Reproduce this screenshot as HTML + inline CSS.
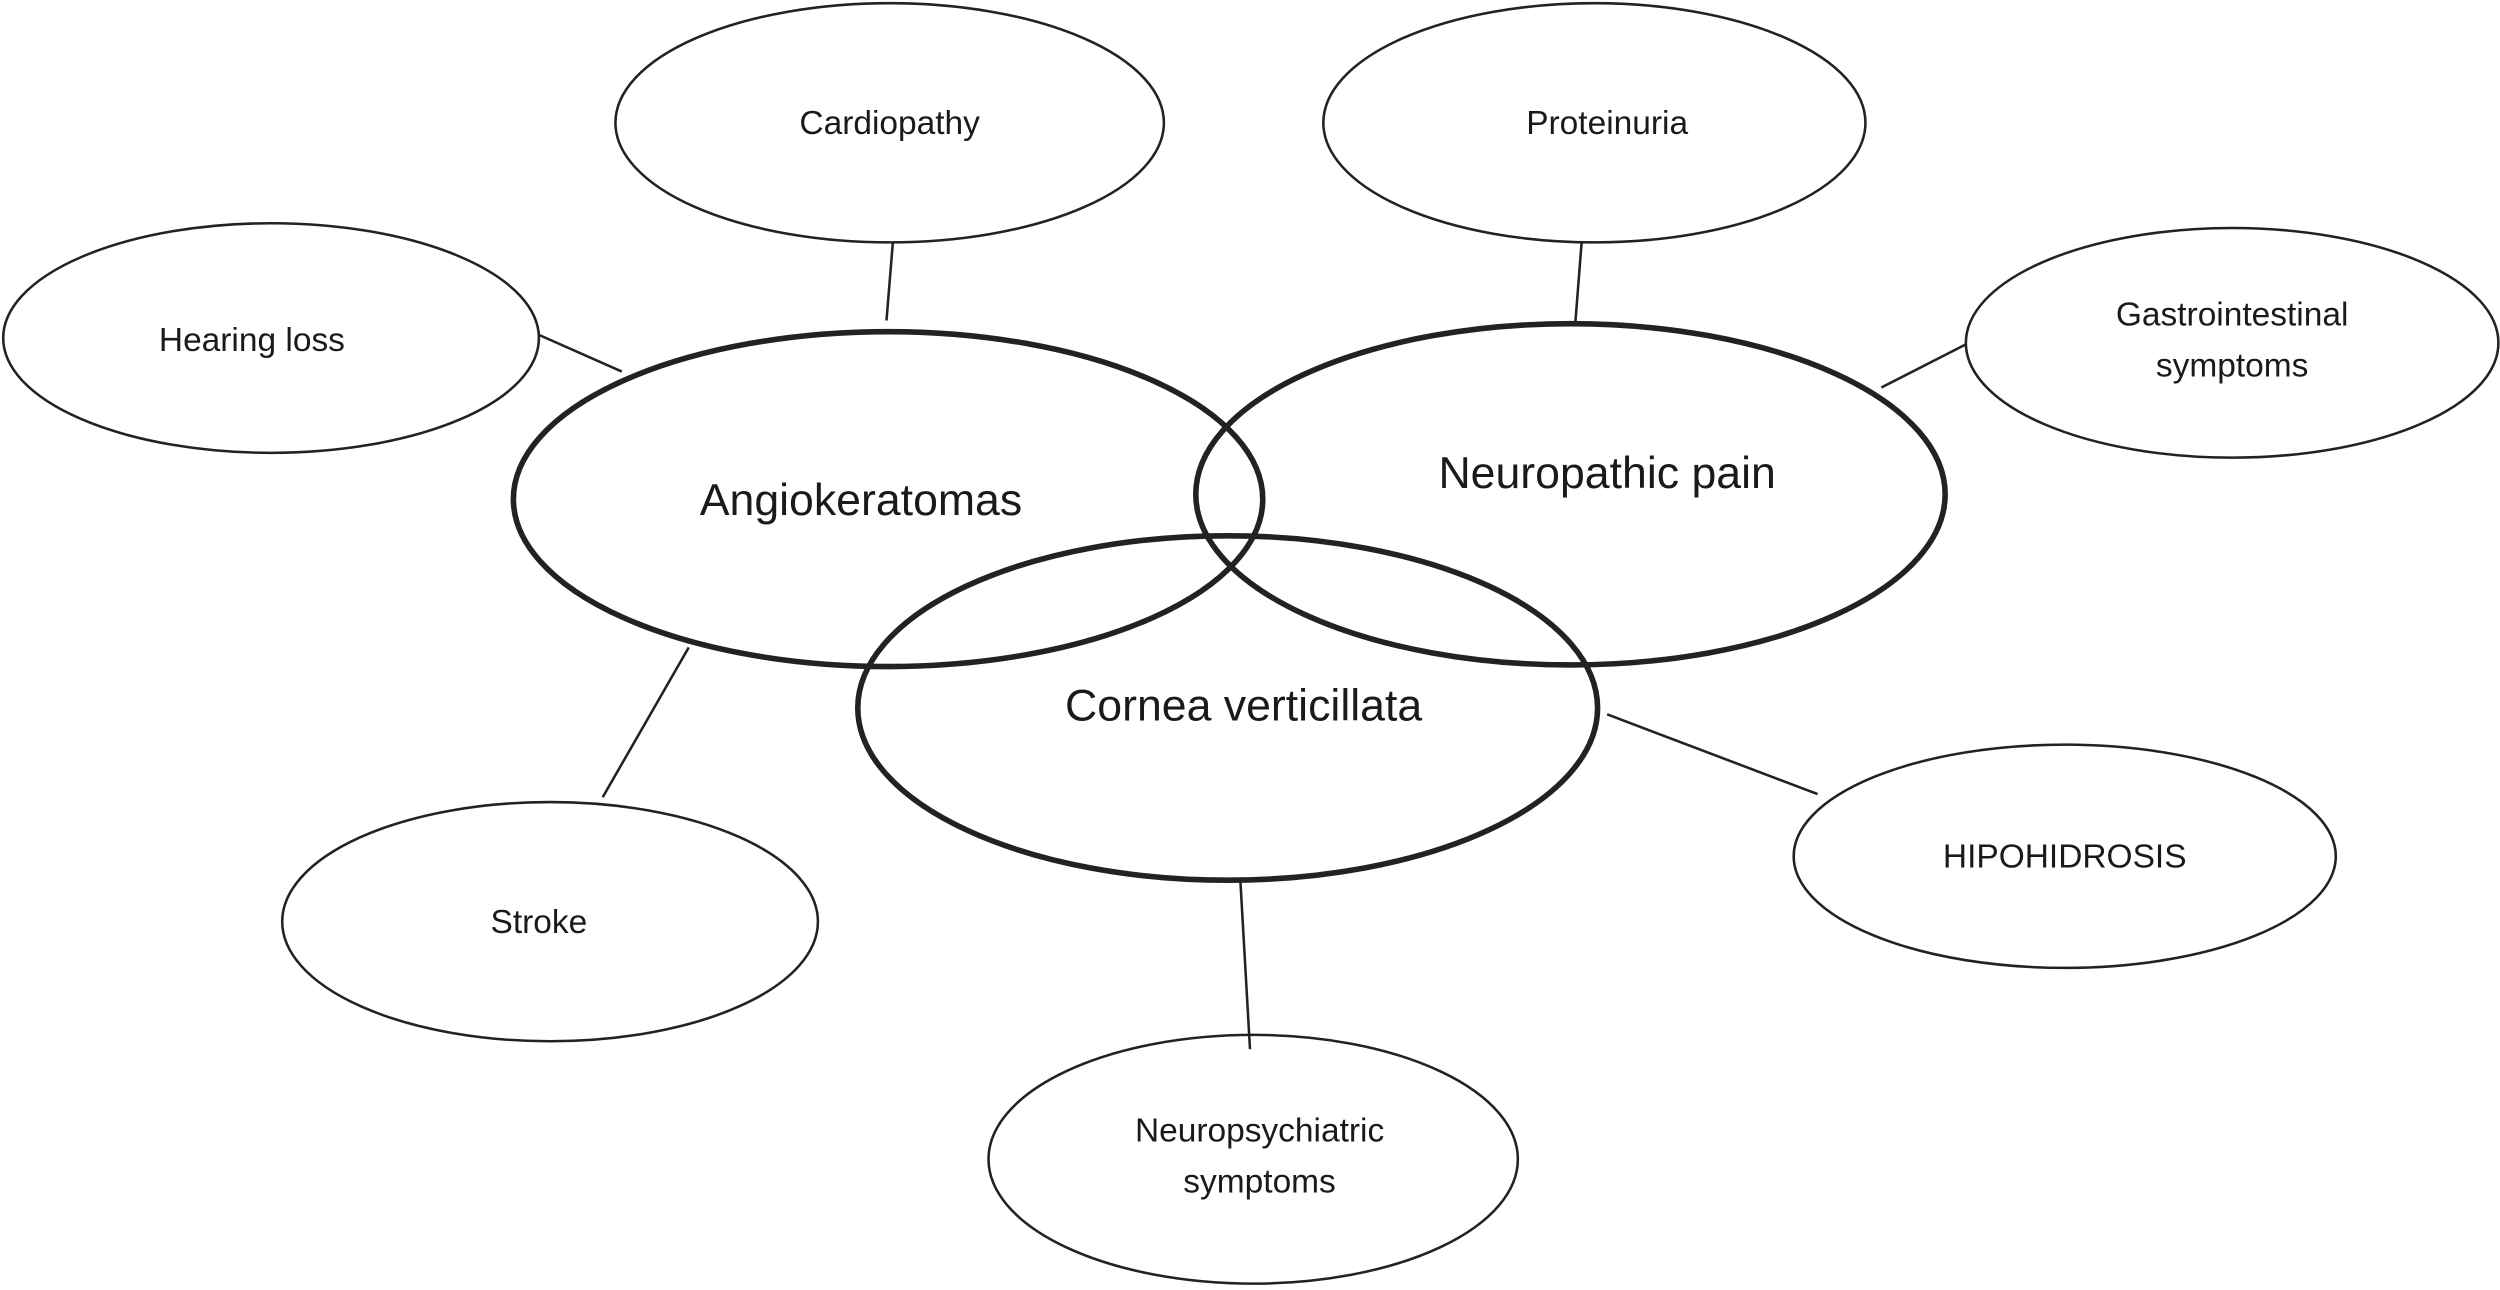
<!DOCTYPE html>
<html><head><meta charset="utf-8"><style>
html,body{margin:0;padding:0;background:#fff;}
svg{display:block;}
text{font-family:"Liberation Sans",Arial,sans-serif;fill:#1a1a1a;text-anchor:middle;}
</style></head><body>
<svg width="2500" height="1290" viewBox="0 0 1568 809" preserveAspectRatio="none" xmlns="http://www.w3.org/2000/svg">
<g stroke="#222" stroke-width="1.6" fill="none">
<line x1="560" y1="152" x2="556" y2="201"/>
<line x1="338" y1="210" x2="390" y2="233"/>
<line x1="992" y1="152" x2="988" y2="203"/>
<line x1="1233" y1="216" x2="1180" y2="243"/>
<line x1="432" y1="406" x2="378" y2="500"/>
<line x1="1008" y1="448" x2="1140" y2="498"/>
<line x1="778" y1="553" x2="784" y2="658"/>
<ellipse cx="558" cy="77" rx="172" ry="75"/>
<ellipse cx="1000" cy="77" rx="170" ry="75"/>
<ellipse cx="170" cy="212" rx="168" ry="72"/>
<ellipse cx="1400" cy="215" rx="167" ry="72"/>
<ellipse cx="345" cy="578" rx="168" ry="75"/>
<ellipse cx="1295" cy="537" rx="170" ry="70"/>
<ellipse cx="786" cy="727" rx="166" ry="78"/>
</g>
<g stroke="#222" stroke-width="3.5" fill="none">
<ellipse cx="557" cy="313" rx="235" ry="105"/>
<ellipse cx="985" cy="310" rx="235" ry="107"/>
<ellipse cx="770" cy="444" rx="232" ry="108"/>
</g>
<g font-size="21">
<text x="558" y="84">Cardiopathy</text>
<text x="1008" y="84">Proteinuria</text>
<text x="158" y="220">Hearing loss</text>
<text x="1400" y="204">Gastrointestinal</text>
<text x="1400" y="236">symptoms</text>
<text x="338" y="585">Stroke</text>
<text x="1295" y="544">HIPOHIDROSIS</text>
<text x="790" y="716">Neuropsychiatric</text>
<text x="790" y="748">symptoms</text>
</g>
<g font-size="28">
<text x="540" y="323">Angiokeratomas</text>
<text x="1008" y="306">Neuropathic pain</text>
<text x="780" y="452">Cornea verticillata</text>
</g>
</svg>
</body></html>
